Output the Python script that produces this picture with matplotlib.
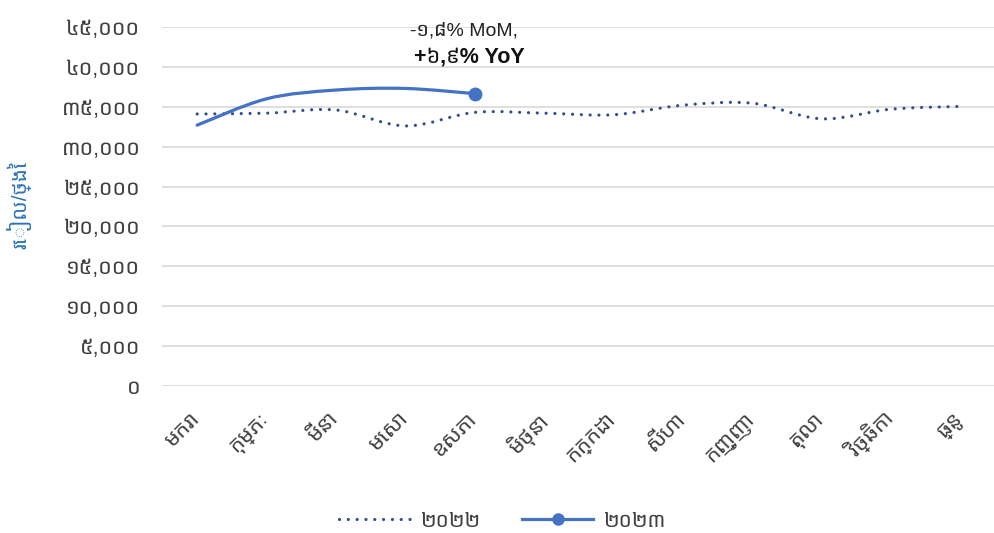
import matplotlib
matplotlib.use("Agg")
import matplotlib.pyplot as plt
from matplotlib.path import Path
from matplotlib.patches import PathPatch
from matplotlib.lines import Line2D
from matplotlib.transforms import ScaledTranslation
import numpy as np

# ---------------- data ----------------
months = ["មករា", "កុម្ភៈ", "មីនា", "មេសា", "ឧសភា", "មិថុនា",
          "កក្កដា", "សីហា", "កញ្ញា", "តុលា", "វិច្ឆិកា", "ធ្នូ"]
values_2022 = [34100, 34200, 34600, 32600, 34300, 34200,
               34000, 35200, 35450, 33500, 34700, 35050]
values_2023 = [32700, 36000, 37100, 37300, 36650]
y_ticks = [0, 5000, 10000, 15000, 20000, 25000, 30000, 35000, 40000, 45000]
y_tick_labels = ["០", "៥,០០០", "១០,០០០", "១៥,០០០", "២០,០០០", "២៥,០០០",
                 "៣០,០០០", "៣៥,០០០", "៤០,០០០", "៤៥,០០០"]
series_names = ["២០២២", "២០២៣"]
y_label = "រៀល/ថ្ងៃ"
note_line1 = "-១,៨% MoM,"
note_line2 = "+៦,៩% YoY"

plt.rcParams["font.family"] = ["Liberation Sans", "Noto Sans Khmer", "DejaVu Sans"]

c2022 = "#2F4E8C"
c2023 = "#4472C4"
grid_c = "#D9D9D9"
text_c = "#404040"

fig = plt.figure(figsize=(9.95, 5.33), dpi=100)
ax = fig.add_axes([0.1633, 0.2758, 0.8367, 0.6735])


def smooth_path(xs, ys):
    pts = np.column_stack([xs, ys]).astype(float)
    n = len(pts)
    verts = [pts[0]]
    codes = [Path.MOVETO]
    for i in range(n - 1):
        p0 = pts[i - 1] if i > 0 else pts[i]
        p1 = pts[i]
        p2 = pts[i + 1]
        p3 = pts[i + 2] if i + 2 < n else pts[i + 1]
        c1 = p1 + (p2 - p0) / 6.0
        c2 = p2 - (p3 - p1) / 6.0
        verts += [c1, c2, p2]
        codes += [Path.CURVE4] * 3
    return Path(verts, codes)


x22 = np.arange(len(values_2022))
x23 = np.arange(len(values_2023))

dot_style = (0, (0.01, 2.75))
p22 = PathPatch(smooth_path(x22, values_2022), fill=False, edgecolor=c2022,
                lw=2.3, linestyle=dot_style, capstyle="round", zorder=3)
ax.add_patch(p22)
p23 = PathPatch(smooth_path(x23, values_2023), fill=False, edgecolor=c2023,
                lw=2.3, zorder=4, capstyle="round")
ax.add_patch(p23)
ax.plot([x23[-1]], [values_2023[-1]], "o", color=c2023, ms=9, zorder=5)

ax.set_xlim(-0.5, len(months) - 0.5)
ax.set_ylim(0, 45000)
ax.set_yticks(y_ticks)
ax.set_yticklabels(y_tick_labels)
ax.set_xticks(x22)
ax.set_xticklabels(months, rotation=45, ha="right", va="top",
                   rotation_mode="anchor")
ax.tick_params(axis="y", length=0, pad=16, labelsize=15.5, labelcolor=text_c)
ax.tick_params(axis="x", length=0, pad=16, labelsize=15.5, labelcolor=text_c)
shift = ScaledTranslation(-8 / 100, 0, fig.dpi_scale_trans)
for lbl in ax.get_xticklabels():
    lbl.set_transform(lbl.get_transform() + shift)
ax.grid(axis="y", color=grid_c, lw=1.2)
ax.set_axisbelow(True)
for s in ax.spines.values():
    s.set_visible(False)

fig.text(0.019, 0.615, y_label, rotation=90, color="#2E75B6", fontsize=15,
         ha="center", va="center")

ax.text(3.85, 44500, note_line1, ha="center", va="center", fontsize=14,
        color="#222222")
ax.text(3.92, 41250, note_line2, ha="center", va="center", fontsize=15.5,
        color="#111111", fontweight="bold")

handles = [Line2D([], [], color=c2022, lw=2.3, linestyle=dot_style,
                  dash_capstyle="round"),
           Line2D([], [], color=c2023, lw=2.3, marker="o", ms=8)]
fig.legend(handles, series_names, loc="center", bbox_to_anchor=(0.505, 0.022),
           ncol=2, frameon=False, fontsize=15, handlelength=3.4,
           columnspacing=2.0, handletextpad=0.5, labelcolor=text_c)

fig.savefig("out.png", dpi=100)
